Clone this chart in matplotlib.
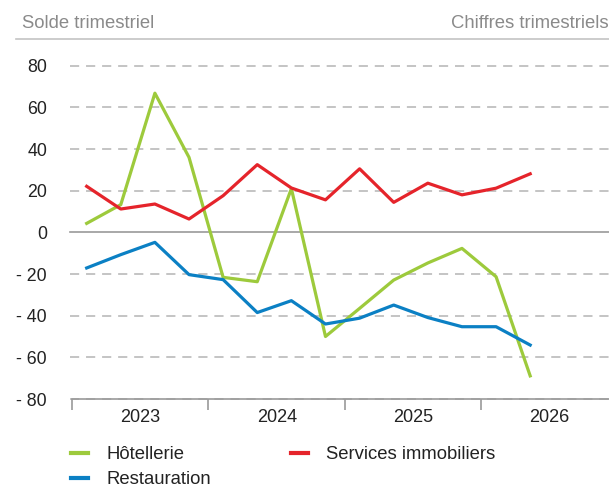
import numpy as np
import matplotlib
matplotlib.use("Agg")
import matplotlib.pyplot as plt
from matplotlib.ticker import FixedLocator, FuncFormatter

plt.rcParams["font.family"] = ["Liberation Sans", "DejaVu Sans"]

# --------------------DATA (solde trimestriel, 2023T1 - 2026T2)-------------------- #

series = {
    "Hôtellerie": [4.3, 13.3, 66.8, 36, -21.6, -23.7, 21, -50, -36.5, -22.9, -14.7, -7.7, -21.3, -68.9],
    "Restauration": [-17.1, -10.7, -4.8, -20.3, -22.7, -38.5, -32.8, -44, -41.2, -34.9, -40.9, -45.3, -45.3, -54.1],
    "Services immobiliers": [22.1, 11.2, 13.6, 6.4, 17.6, 32.5, 21.3, 15.6, 30.5, 14.4, 23.6, 18, 21.2, 28.1],
}
colors = {"Hôtellerie": "#9dca3c", "Restauration": "#0b80c4", "Services immobiliers": "#e5242b"}
x = np.arange(14) + 0.43

# --------------------FIGURE-------------------- #

fig = plt.figure(figsize=(6.09, 4.87), dpi=100)
ax = fig.add_axes([72 / 609, 1 - 399 / 487, 1 - 72 / 609, (399 - 65.7) / 487])

for y in [-80, -60, -40, -20, 20, 40, 60, 80]:
    ax.axhline(y, color="#b4b4b4", lw=1.1, ls=(0, (6, 4.5)), xmin=-0.004, clip_on=False, zorder=1)
ax.axhline(0, color="#9a9a9a", lw=1.2, xmin=-0.004, clip_on=False, zorder=1)

for name in ["Hôtellerie", "Services immobiliers", "Restauration"]:
    ax.plot(x, series[name], color=colors[name], lw=2.3, label=name, zorder=3, clip_on=False)

ax.set_xlim(0, 15.74)
ax.set_ylim(-80, 80)

for s in ["top", "right", "left"]:
    ax.spines[s].set_visible(False)
ax.spines["bottom"].set_color("#9a9a9a")
ax.spines["bottom"].set_linewidth(1.2)

ax.yaxis.set_major_locator(FixedLocator(range(-80, 81, 20)))
ax.yaxis.set_major_formatter(FuncFormatter(lambda v, p: ("- %d" % -v) if v < 0 else "%d" % v))
ax.tick_params(axis="y", length=0, pad=18, labelsize=12.8, labelcolor="#222222")

ax.xaxis.set_major_locator(FixedLocator([0, 4, 8, 12]))
ax.xaxis.set_minor_locator(FixedLocator([2, 6, 10, 14]))
ax.xaxis.set_major_formatter(FuncFormatter(lambda v, p: ""))
ax.set_xticklabels(["2023", "2024", "2025", "2026"], minor=True)
ax.tick_params(axis="x", which="major", length=8, color="#9a9a9a", width=1.2)
ax.tick_params(axis="x", which="minor", length=0, pad=7, labelsize=13, labelcolor="#222222")

# header
fig.text(22 / 609, 1 - 24 / 487, "Solde trimestriel", fontsize=13.3, color="#8a8a8a", va="center", ha="left")
fig.text(1.0, 1 - 24 / 487, "Chiffres trimestriels", fontsize=13.3, color="#8a8a8a", va="center", ha="right")
fig.add_artist(plt.Line2D([16 / 609, 1], [1 - 38.5 / 487] * 2, color="#c4c4c4", lw=1.2))

# legend
h, l = ax.get_legend_handles_labels()
order = [0, 2, 1]
leg = fig.legend([h[i] for i in order], [l[i] for i in order], ncol=2, loc="upper left",
                 bbox_to_anchor=(71 / 609, 1 - 446 / 487), frameon=False, fontsize=13.3,
                 borderpad=0, borderaxespad=0,
                 handlelength=0.92, handletextpad=1.0, columnspacing=4.3, labelspacing=0.45)
for t in leg.get_texts():
    t.set_color("#222222")
for ln in leg.get_lines():
    ln.set_linewidth(3)

fig.savefig("out.png", dpi=100)
